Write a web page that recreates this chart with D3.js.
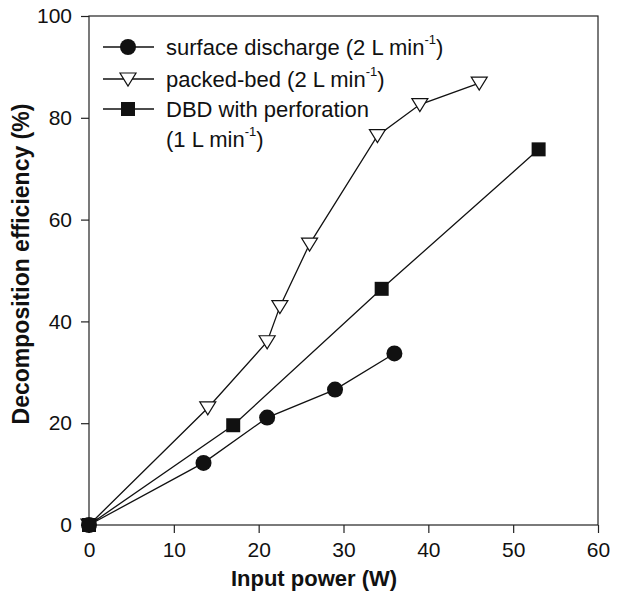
<!DOCTYPE html>
<html>
<head>
<meta charset="utf-8">
<script src="https://cdn.jsdelivr.net/npm/d3@7"></script>
<style>
  body { margin: 0; background: #fff; }
  text { font-family: "Liberation Sans", Arial, sans-serif; fill: #111; }
</style>
</head>
<body>
<div id="chart"></div>
<script>
// Data
var surfacePower = [0, 13.5, 21, 29, 36];
var surfaceEff = [0, 12.2, 21.1, 26.6, 33.7];
var packedPower = [0, 14, 21, 22.5, 26, 34, 39, 46];
var packedEff = [0, 23, 36, 42.9, 55.2, 76.5, 82.6, 86.8];
var dbdPower = [0, 17, 34.5, 53];
var dbdEff = [0, 19.6, 46.4, 73.8];
var xTicks = [0, 10, 20, 30, 40, 50, 60];
var yTicks = [0, 20, 40, 60, 80, 100];

var svgWidth = 620, svgHeight = 595;
var margin = { top: 16, right: 22, bottom: 70, left: 89 };
var width = svgWidth - margin.left - margin.right;
var height = svgHeight - margin.top - margin.bottom;

var svg = d3.select("#chart").append("svg")
  .attr("width", svgWidth)
  .attr("height", svgHeight);

var g = svg.append("g")
  .attr("transform", `translate(${margin.left}, ${margin.top})`);

var x = d3.scaleLinear().domain([0, 60]).range([0, width]);
var y = d3.scaleLinear().domain([0, 100]).range([height, 0]);

// frame
g.append("rect")
  .attr("width", width).attr("height", height)
  .attr("fill", "none").attr("stroke", "#222").attr("stroke-width", 1.2);

var xAxis = g.append("g")
  .attr("transform", `translate(0,${height})`)
  .call(d3.axisBottom(x).tickValues(xTicks).tickSize(8).tickSizeOuter(0));
var yAxis = g.append("g")
  .call(d3.axisLeft(y).tickValues(yTicks).tickSize(8).tickSizeOuter(0));

[xAxis, yAxis].forEach(function (a) {
  a.select(".domain").remove();
  a.selectAll("line").attr("stroke", "#222").attr("stroke-width", 1.2);
  a.selectAll("text").attr("font-size", "21px").attr("fill", "#111")
    .style("font-family", "'Liberation Sans', Arial, sans-serif");
});
xAxis.selectAll("text").attr("dy", "1.0em");
yAxis.selectAll("text").attr("x", -17);

var line = d3.line().x(d => x(d[0])).y(d => y(d[1]));

function pairs(xs, ys) { return xs.map((v, i) => [v, ys[i]]); }

var surface = pairs(surfacePower, surfaceEff);
var packed = pairs(packedPower, packedEff);
var dbd = pairs(dbdPower, dbdEff);

[surface, packed, dbd].forEach(function (s) {
  g.append("path").datum(s).attr("d", line)
    .attr("fill", "none").attr("stroke", "#111").attr("stroke-width", 1.3);
});

var triPath = "M-8,-6 L8,-6 L0,7 Z";

function drawMarker(sel, type) {
  if (type === "circle") {
    sel.append("circle").attr("r", 8).attr("fill", "#111");
  } else if (type === "square") {
    sel.append("rect").attr("x", -7).attr("y", -7).attr("width", 14).attr("height", 14).attr("fill", "#111");
  } else {
    sel.append("path").attr("d", triPath).attr("fill", "#fff")
      .attr("stroke", "#111").attr("stroke-width", 1.2);
  }
}

function drawPoints(data, type) {
  var pts = g.append("g").selectAll("g")
    .data(data).enter().append("g")
    .attr("transform", d => `translate(${x(d[0])},${y(d[1])})`);
  drawMarker(pts, type);
}

drawPoints(packed, "triangle");
drawPoints(dbd, "square");
drawPoints(surface, "circle");

// legend
var legendItems = [
  { type: "circle", label: "surface discharge (2 L min", sup: "-1", tail: ")", y: 47 },
  { type: "triangle", label: "packed-bed (2 L min", sup: "-1", tail: ")", y: 79 },
  { type: "square", label: "DBD with perforation", sup: null, tail: "", y: 109 }
];

legendItems.forEach(function (it) {
  var lg = svg.append("g").attr("transform", `translate(0,${it.y})`);
  lg.append("line").attr("x1", 103).attr("x2", 154)
    .attr("stroke", "#111").attr("stroke-width", 1.3);
  var m = lg.append("g").attr("transform", "translate(128,0)");
  drawMarker(m, it.type);
  var t = lg.append("text").attr("x", 166).attr("dy", "0.35em")
    .attr("font-size", "22px").text(it.label);
  if (it.sup) {
    t.append("tspan").attr("font-size", "13px").attr("dy", "-0.8em").text(it.sup);
    t.append("tspan").attr("font-size", "22px").attr("dy", "0.47em").text(it.tail);
  }
});

var l4 = svg.append("text").attr("x", 166).attr("y", 139).attr("dy", "0.35em")
  .attr("font-size", "22px").text("(1 L min");
l4.append("tspan").attr("font-size", "13px").attr("dy", "-0.8em").text("-1");
l4.append("tspan").attr("font-size", "22px").attr("dy", "0.47em").text(")");

// axis titles
svg.append("text")
  .attr("x", 314).attr("y", 586)
  .attr("text-anchor", "middle").attr("font-size", "22px").attr("font-weight", "700")
  .text("Input power (W)");

svg.append("text")
  .attr("transform", "translate(29,264) rotate(-90)")
  .attr("text-anchor", "middle").attr("font-size", "23px").attr("font-weight", "700")
  .text("Decomposition efficiency (%)");
</script>
</body>
</html>
